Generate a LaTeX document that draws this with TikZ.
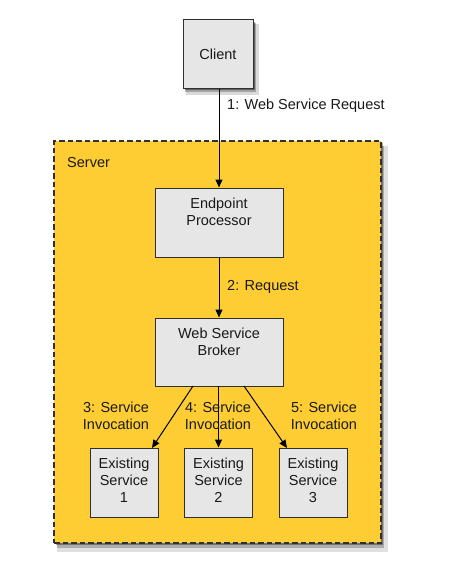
\documentclass[tikz,border=0pt]{standalone}
\usepackage{fontspec}
\setmainfont{Liberation Sans}
\usetikzlibrary{arrows.meta,shadows}
\definecolor{srvyellow}{HTML}{FECD34}
\definecolor{boxgray}{HTML}{E6E6E6}
\definecolor{edgegray}{HTML}{303030}
\tikzset{
  softshadow/.style={
    drop shadow={shadow xshift=4pt,shadow yshift=-5pt,shadow scale=1.04,opacity=0.15,fill=black},
    drop shadow={shadow xshift=2.5pt,shadow yshift=-3.5pt,shadow scale=1.02,opacity=0.25,fill=black},
    drop shadow={shadow xshift=1.5pt,shadow yshift=-2pt,opacity=0.4,fill=black}},
  procbox/.style={draw=edgegray,line width=1pt,fill=boxgray,inner sep=0pt},
  lbl/.style={font=\fontsize{14.5}{17}\selectfont,text=black!90,align=center,inner sep=0pt},
  flow/.style={draw=black,line width=1pt,-{Triangle[length=8pt,width=7pt]}}
}
\begin{document}
\begin{tikzpicture}[x=1pt,y=-1pt]
\useasboundingbox[fill=white] (0,0) rectangle (455,586);
% server container
\node[draw=edgegray,dash pattern=on 5.5pt off 3pt,line width=1.1pt,fill=srvyellow,minimum width=327pt,minimum height=402pt,inner sep=0pt,
  drop shadow={shadow xshift=5pt,shadow yshift=-7pt,shadow scale=1.01,opacity=0.12,fill=black},
  drop shadow={shadow xshift=3pt,shadow yshift=-4.5pt,opacity=0.22,fill=black},
  drop shadow={shadow xshift=1.5pt,shadow yshift=-2pt,opacity=0.35,fill=black}] (server) at (217.5,342) {};
\node[lbl,anchor=west] (serverlbl) at (67,163) {Server};
% boxes
\node[procbox,softshadow,minimum width=70pt,minimum height=68pt] (client) at (218,54) {};
\node[lbl] (clienttxt) at (218,54) {Client};
\node[procbox,minimum width=128pt,minimum height=69pt] (ep) at (219,222.5) {};
\node[lbl] (eptxt) at (219,211.5) {Endpoint\\Processor};
\node[procbox,minimum width=128pt,minimum height=68pt] (broker) at (219,352) {};
\node[lbl] (brokertxt) at (219,341.5) {Web Service\\Broker};
\node[procbox,minimum width=68pt,minimum height=69pt] (es1) at (124,482.5) {};
\node[lbl] (es1txt) at (124,480) {Existing\\Service\\1};
\node[procbox,minimum width=68pt,minimum height=69pt] (es2) at (218.5,482.5) {};
\node[lbl] (es2txt) at (218.5,480) {Existing\\Service\\2};
\node[procbox,minimum width=68pt,minimum height=69pt] (es3) at (313,482.5) {};
\node[lbl] (es3txt) at (313,480) {Existing\\Service\\3};
% connectors
\coordinate (b1) at (193,386);
\coordinate (b2) at (218.5,386);
\coordinate (b3) at (244,386);
\coordinate (e1) at (152,448);
\coordinate (e3) at (287,448);
\draw[flow] (client.south -| ep.north) -- (ep.north);
\draw[flow] (ep.south) -- (broker.north);
\draw[flow] (b1) -- (e1);
\draw[flow] (b2) -- (es2.north);
\draw[flow] (b3) -- (e3);
% labels
\node[lbl,anchor=west] (l1) at (227,106) {1: Web Service Request};
\node[lbl,anchor=west] (l2) at (227,287) {2: Request};
\node[lbl] (l3) at (116,415.5) {3: Service\\Invocation};
\node[lbl] (l4) at (218,415.5) {4: Service\\Invocation};
\node[lbl] (l5) at (324,415.5) {5: Service\\Invocation};
\end{tikzpicture}
\end{document}
